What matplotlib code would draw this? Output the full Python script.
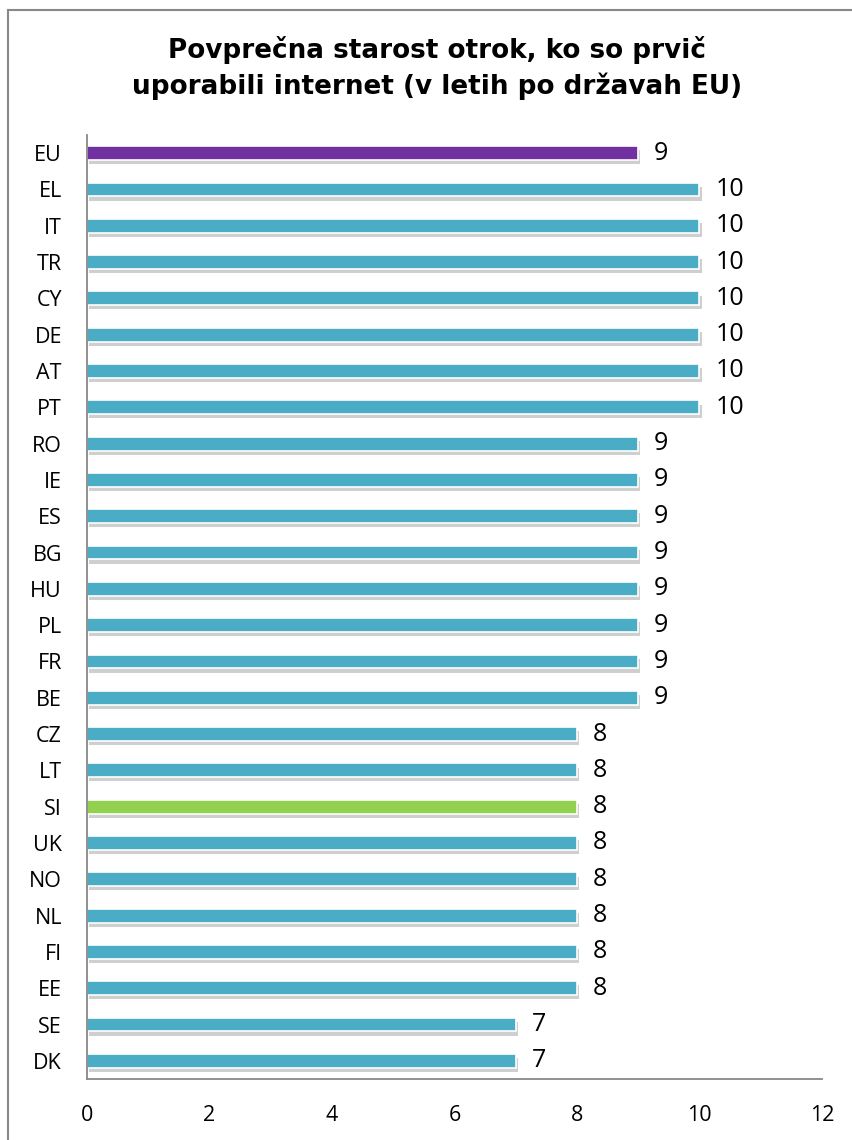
import matplotlib
matplotlib.use("Agg")
import matplotlib.pyplot as plt
import matplotlib.patheffects as pe
from matplotlib.lines import Line2D
from matplotlib import font_manager

countries = ["EU", "EL", "IT", "TR", "CY", "DE", "AT", "PT", "RO", "IE", "ES", "BG", "HU",
             "PL", "FR", "BE", "CZ", "LT", "SI", "UK", "NO", "NL", "FI", "EE", "SE", "DK"]
values = [9, 10, 10, 10, 10, 10, 10, 10, 9, 9, 9, 9, 9, 9, 9, 9, 8, 8, 8, 8, 8, 8, 8, 8, 7, 7]
title = "Povprečna starost otrok, ko so prvič\nuporabili internet (v letih po državah EU)"
xticks = [0, 2, 4, 6, 8, 10, 12]

TEAL = "#4BACC6"
PURPLE = "#7030A0"
GREEN = "#92D050"
colors = [PURPLE if c == "EU" else GREEN if c == "SI" else TEAL for c in countries]

lab_font = "Open Sans"
tick_fs = 15.5
val_fs = 18

W, H = 853, 1140
fig = plt.figure(figsize=(W / 100, H / 100), dpi=100)
ax = fig.add_axes([87 / W, 1 - 1079 / H, (822 - 87) / W, (1079 - 135) / H])

ypos = list(range(len(countries)))
bars = ax.barh(ypos, values, height=0.38, color=colors, edgecolor="white", linewidth=1.2)
for b in bars:
    b.set_path_effects([pe.SimplePatchShadow(offset=(1.5, -3), shadow_rgbFace="#777777", alpha=0.35),
                        pe.Normal()])

ax.set_ylim(len(countries) - 0.5, -0.5)
ax.set_xlim(0, 12)
ax.set_xticks(xticks)
ax.set_yticks(ypos)
ax.set_yticklabels(countries)

for t in ax.get_yticklabels() + ax.get_xticklabels():
    t.set_fontfamily(lab_font)
    t.set_fontsize(tick_fs)
ax.tick_params(axis="y", length=0, pad=18)
ax.tick_params(axis="x", length=0, pad=19)

for y, v in zip(ypos, values):
    ax.annotate(str(v), (v, y), xytext=(11.5, 0), textcoords="offset points",
                va="center", ha="left", fontsize=val_fs, fontfamily=lab_font)

for s in ["top", "right"]:
    ax.spines[s].set_visible(False)
for s in ["left", "bottom"]:
    ax.spines[s].set_color("#888888")
    ax.spines[s].set_linewidth(1.3)

fig.text(437 / W, 1 - 68 / H, title, ha="center", va="center", fontsize=18.9,
         fontweight="bold", family="DejaVu Sans", linespacing=1.35)

# outer chart frame
fig.add_artist(Line2D([8 / W, 8 / W], [1 - 10 / H, 0], color="#888888", lw=1.5, transform=fig.transFigure))
fig.add_artist(Line2D([8 / W, 1], [1 - 10 / H, 1 - 10 / H], color="#888888", lw=1.5, transform=fig.transFigure))

fig.savefig("out.png", dpi=100)
